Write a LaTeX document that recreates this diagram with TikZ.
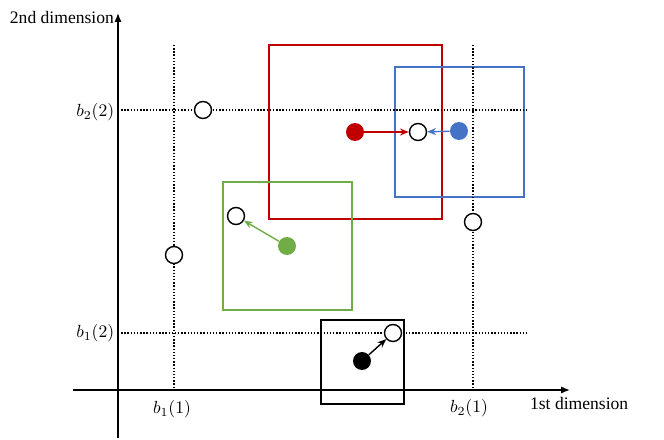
\documentclass[tikz,border=0pt]{standalone}
\usepackage{fontspec}
\setmainfont{Liberation Serif}
\usetikzlibrary{arrows.meta,positioning}

\begin{document}
\begin{tikzpicture}[x=0.02cm, y=-0.02cm, every node/.style={font=\fontsize{10}{12}\selectfont}]
  % styles
  \tikzstyle{axis} = [thick, -{Latex[length=5pt,width=4pt]}]
  \tikzstyle{grid} = [densely dotted, thick]
  \tikzstyle{hollow} = [circle, draw=black, thick, fill=white, minimum size=0.34cm, inner sep=0pt]
  \tikzstyle{solid} = [circle, minimum size=0.36cm, inner sep=0pt]
  \tikzstyle{win} = [thick]
  \tikzstyle{move} = [thick, -{Stealth[length=5pt,width=4pt]}]

  \useasboundingbox (0,0) rectangle (664,440);

  % windows
  \draw[win, draw={rgb,255:red,192;green,0;blue,0}] (269,45) rectangle (442,219);
  \draw[win, draw={rgb,255:red,68;green,114;blue,196}] (395,67) rectangle (524,197);
  \draw[win, draw={rgb,255:red,112;green,173;blue,71}] (223,182) rectangle (352,310);
  \draw[win, draw=black] (321,320) rectangle (404,404);

  % grid lines
  \draw[grid] (174,45) -- (174,390);
  \draw[grid] (473,45) -- (473,390);
  \draw[grid] (118,110) -- (528,110);
  \draw[grid] (118,333) -- (528,333);

  % axes
  \coordinate (xs) at (73,390);
  \coordinate (xe) at (570,390);
  \coordinate (ys) at (118,438);
  \coordinate (ye) at (118,13);
  \draw[axis] (xs) -- (xe);
  \draw[axis] (ys) -- (ye);

  % labels
  \node[anchor=east, inner sep=1pt] (dim2) at (116,17) {2nd dimension};
  \node[anchor=west, inner sep=1pt] (dim1) at (528,403) {1st dimension};
  \node[anchor=east, inner sep=2pt] (b22) at (118,112) {$b_2(2)$};
  \node[anchor=east, inner sep=2pt] (b12) at (118,333) {$b_1(2)$};
  \node (b11) at (172,409) {$b_1(1)$};
  \node (b21) at (469,408) {$b_2(1)$};

  % hollow points
  \node[hollow] (p1) at (203,110) {};
  \node[hollow] (p2) at (174,255) {};
  \node[hollow] (p3) at (236,216) {};
  \node[hollow] (p4) at (418,132) {};
  \node[hollow] (p5) at (473,222) {};
  \node[hollow] (p6) at (393,333) {};

  % filled points
  \node[solid, fill={rgb,255:red,192;green,0;blue,0}] (red) at (355,132) {};
  \node[solid, fill={rgb,255:red,68;green,114;blue,196}] (blue) at (459,131) {};
  \node[solid, fill={rgb,255:red,112;green,173;blue,71}] (green) at (287,246) {};
  \node[solid, fill=black] (black) at (362,361) {};

  % moves
  \draw[move, draw={rgb,255:red,192;green,0;blue,0}, fill={rgb,255:red,192;green,0;blue,0}] (red) -- (p4);
  \draw[move, draw={rgb,255:red,68;green,114;blue,196}, fill={rgb,255:red,68;green,114;blue,196}] (blue) -- (p4);
  \draw[move, draw={rgb,255:red,112;green,173;blue,71}, fill={rgb,255:red,112;green,173;blue,71}] (green) -- (p3);
  \draw[move] (black) -- (p6);
\end{tikzpicture}
\end{document}
